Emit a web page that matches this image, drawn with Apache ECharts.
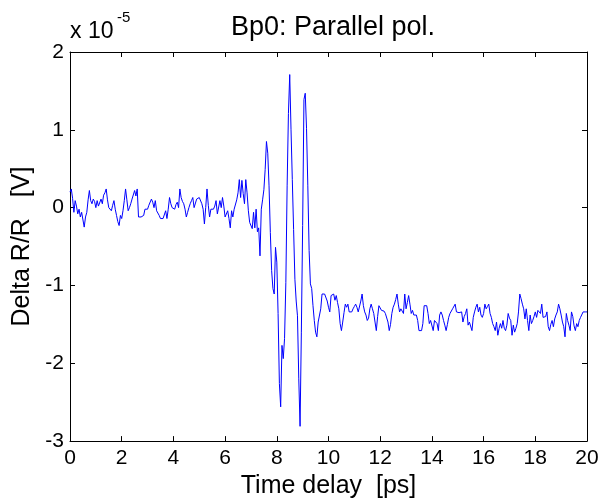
<!DOCTYPE html>
<html>
<head>
    <meta charset="UTF-8">
    <title>Bp0: Parallel pol.</title>
    <style>html,body{margin:0;padding:0;background:#fff;}</style>
</head>
<body>
<div id="main" style="width: 605px;height:504px;"></div>
<script src="https://cdn.jsdelivr.net/npm/echarts@6/dist/echarts.min.js"></script>
<script>
    // time axis: one sample every 0.05 ps starting at 0
    var timeStart = 0;
    var timeStep = 0.05;

    // Delta R/R in units of 1e-5 V
    // before the pulse (0 - 6.95 ps)
    var preEdge = [
        0.20,0.24,0.12,-0.06,0.09,0.02,-0.08,-0.02,-0.12,-0.06,-0.04,-0.25,-0.12,-0.06,0.10,0.22,0.09,0.05,0.11,0.08,
        0.00,0.09,0.02,0.00,0.11,0.05,0.16,0.19,0.24,0.10,0.00,0.02,-0.04,0.03,0.09,-0.02,-0.10,-0.18,-0.23,-0.10,
        -0.14,-0.04,0.09,0.24,0.10,-0.04,0.00,0.05,0.11,0.13,0.22,0.15,0.24,-0.12,-0.12,-0.12,-0.11,-0.10,-0.02,-0.02,
        -0.02,0.03,0.05,0.11,0.07,0.00,0.09,-0.04,-0.02,-0.10,-0.14,-0.14,-0.14,-0.12,-0.04,-0.14,-0.02,0.13,0.05,0.00,
        -0.02,-0.02,0.04,0.07,0.00,0.24,0.13,0.08,0.05,-0.02,-0.12,-0.06,0.00,0.05,0.09,0.13,0.00,-0.02,0.11,0.13,
        0.13,0.11,0.05,-0.02,-0.21,0.00,0.24,0.03,-0.12,-0.02,-0.02,-0.02,0.02,0.09,-0.08,-0.06,0.09,0.00,0.13,0.02,
        -0.12,-0.14,-0.04,-0.14,-0.26,-0.04,-0.12,-0.02,-0.02,0.10,0.19,0.36,0.13,0.35,0.18,0.05,0.36,0.19,-0.04,-0.19
    ];
    // the oscillation (7 - 9.95 ps)
    var transient = [
        -0.21,-0.27,-0.06,-0.26,-0.02,-0.31,-0.26,-0.62,-0.02,0.10,0.23,0.49,0.85,0.70,0.28,-0.32,-0.81,-1.04,-1.11,-0.51,
        -0.70,-1.36,-2.26,-2.56,-1.77,-1.94,-1.68,-0.96,0.28,1.21,1.71,1.00,0.36,-0.28,-0.92,-1.20,-1.39,-2.20,-2.81,-1.60,
        -0.23,1.39,1.47,1.02,0.28,-0.55,-0.98,-1.04,-1.26,-1.45,-1.60,-1.66,-1.47,-1.47,-1.30,-1.11,-1.11,-1.11,-1.11,-1.20
    ];
    // after the pulse (10 - 20 ps)
    var tail = [
        -1.28,-1.34,-1.13,-1.12,-1.11,-1.19,-1.13,-1.22,-1.30,-1.49,-1.58,-1.47,-1.35,-1.24,-1.28,-1.24,-1.34,-1.34,-1.34,-1.30,
        -1.27,-1.24,-1.28,-1.34,-1.34,-1.20,-1.11,-1.26,-1.34,-1.38,-1.45,-1.42,-1.30,-1.24,-1.30,-1.36,-1.47,-1.58,-1.40,-1.26,
        -1.24,-1.32,-1.30,-1.33,-1.36,-1.38,-1.47,-1.58,-1.50,-1.36,-1.28,-1.24,-1.18,-1.11,-1.24,-1.34,-1.30,-1.33,-1.36,-1.11,
        -1.30,-1.22,-1.13,-1.24,-1.36,-1.32,-1.38,-1.38,-1.38,-1.45,-1.58,-1.58,-1.58,-1.49,-1.26,-1.26,-1.26,-1.36,-1.49,-1.45,
        -1.47,-1.58,-1.45,-1.43,-1.49,-1.58,-1.38,-1.34,-1.38,-1.45,-1.51,-1.58,-1.50,-1.41,-1.36,-1.34,-1.30,-1.28,-1.24,-1.34,
        -1.34,-1.35,-1.36,-1.34,-1.47,-1.40,-1.36,-1.30,-1.51,-1.47,-1.45,-1.58,-1.41,-1.34,-1.28,-1.24,-1.34,-1.28,-1.38,-1.41,
        -1.36,-1.24,-1.30,-1.27,-1.24,-1.36,-1.41,-1.49,-1.53,-1.58,-1.47,-1.64,-1.55,-1.49,-1.55,-1.45,-1.55,-1.58,-1.51,-1.36,
        -1.42,-1.45,-1.64,-1.51,-1.60,-1.55,-1.49,-1.34,-1.11,-1.17,-1.24,-1.30,-1.43,-1.30,-1.45,-1.58,-1.38,-1.49,-1.45,-1.40,
        -1.34,-1.41,-1.32,-1.34,-1.36,-1.24,-1.41,-1.43,-1.40,-1.34,-1.53,-1.58,-1.50,-1.45,-1.53,-1.43,-1.38,-1.34,-1.24,-1.30,
        -1.38,-1.47,-1.53,-1.66,-1.36,-1.45,-1.51,-1.58,-1.34,-1.40,-1.52,-1.58,-1.49,-1.53,-1.45,-1.41,-1.41,-1.34,-1.34,-1.34,
        -1.34
    ];

    var font = 'Liberation Sans';
    var values = preEdge.concat(transient, tail);
    var data = [];
    for (var i = 0; i < values.length; i++) {
        data.push([+(timeStart + i * timeStep).toFixed(2), values[i]]);
    }

    var myChart = echarts.init(document.getElementById('main'));

    // same axis for bottom/top and left/right, so the box gets inward ticks on all sides
    function xAx(pos, labels) {
        return {
            type: 'value', position: pos, min: 0, max: 20, interval: 2,
            axisLine: {show: true, onZero: false, lineStyle: {color: '#000', width: 1}},
            axisTick: {show: true, inside: true, length: 5, lineStyle: {color: '#000'}},
            axisLabel: {show: labels, color: '#000', fontFamily: font, fontSize: 21, margin: 7},
            splitLine: {show: false}
        };
    }
    function yAx(pos, labels) {
        return {
            type: 'value', position: pos, min: -3, max: 2, interval: 1,
            axisLine: {show: true, onZero: false, lineStyle: {color: '#000', width: 1}},
            axisTick: {show: true, inside: true, length: 5, lineStyle: {color: '#000'}},
            axisLabel: {show: labels, color: '#000', fontFamily: font, fontSize: 21, margin: 6},
            splitLine: {show: false}
        };
    }

    var xBottom = xAx('bottom', true);
    xBottom.name = 'Time delay  [ps]';
    xBottom.nameLocation = 'middle';
    xBottom.nameGap = 32;
    xBottom.nameTextStyle = {color: '#000', fontFamily: font, fontSize: 25};

    var yLeft = yAx('left', true);
    yLeft.name = 'Delta R/R   [V]';
    yLeft.nameLocation = 'middle';
    yLeft.nameGap = 32;
    yLeft.nameTextStyle = {color: '#000', fontFamily: font, fontSize: 25};

    var option = {
        animation: false,
        backgroundColor: '#fff',
        title: {
            text: 'Bp0: Parallel pol.',
            left: 328, top: 9, textAlign: 'center',
            textStyle: {color: '#000', fontFamily: font, fontSize: 27, fontWeight: 'normal'}
        },
        graphic: [
            {type: 'text', left: 70, top: 20, style: {text: 'x 10', fill: '#000', font: '23px "Liberation Sans"'}},
            {type: 'text', left: 117, top: 10, style: {text: '-5', fill: '#000', font: '15px "Liberation Sans"'}}
        ],
        grid: {left: 70, right: 18, top: 52, bottom: 61, containLabel: false},
        xAxis: [xBottom, xAx('top', false)],
        yAxis: [yLeft, yAx('right', false)],
        series: [{
            type: 'line',
            xAxisIndex: 0,
            yAxisIndex: 0,
            data: data,
            showSymbol: false,
            symbol: 'none',
            lineStyle: {color: '#0000ff', width: 1},
            itemStyle: {color: '#0000ff'}
        }]
    };

    myChart.setOption(option);
</script>
</body>
</html>
